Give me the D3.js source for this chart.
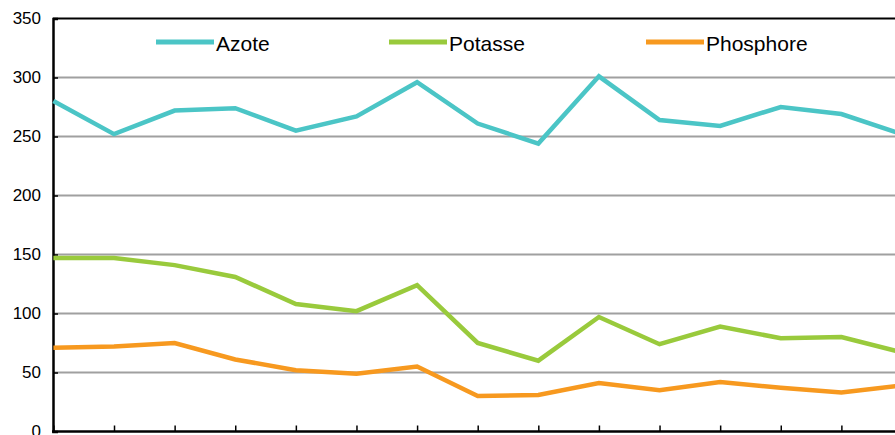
<!DOCTYPE html>
<html><head><meta charset="utf-8">
<script src="https://cdn.jsdelivr.net/npm/d3@7"></script>
<style>html,body{margin:0;padding:0;background:#fff;overflow:hidden}</style>
</head><body><svg id="c" width="895" height="435"></svg>
<script>
const categories = d3.range(1, 16).map(String);
const azote     = [280, 252, 272, 274, 255, 267, 296, 261, 244, 301, 264, 259, 275, 269, 252];
const potasse   = [147, 147, 141, 131, 108, 102, 124, 75, 60, 97, 74, 89, 79, 80, 67];
const phosphore = [71, 72, 75, 61, 52, 49, 55, 30, 31, 41, 35, 42, 37, 33, 39];
const seriesNames = ["Azote", "Potasse", "Phosphore"];
const colors = ["#4BC5C6", "#99CA3C", "#F7991F"];
const yTicks = [0, 50, 100, 150, 200, 250, 300, 350];

const svg = d3.select("#c");
const x = d3.scalePoint().domain(categories).range([53.4, 902]);
const y = d3.scaleLinear().domain([0, 350]).range([431.5, 18.5]);

// gridlines
svg.append("g").selectAll("line").data(yTicks.filter(t => t > 0 && t < 350)).join("line")
  .attr("x1", 53).attr("x2", 895).attr("y1", d => y(d)).attr("y2", d => y(d))
  .attr("stroke", "#A0A0A0").attr("stroke-width", 2);

// top frame
svg.append("line").attr("x1", 53).attr("x2", 895).attr("y1", y(350)).attr("y2", y(350))
  .attr("stroke", "#000").attr("stroke-width", 2);

// y axis
const yAxis = d3.axisRight(y).tickValues(yTicks).tickSize(5).tickFormat(d3.format("d"));
const gy = svg.append("g").attr("transform", "translate(53,0)").call(yAxis);
gy.select(".domain").attr("stroke-width", 2.5);
gy.selectAll(".tick line").attr("stroke-width", 1.5);
gy.selectAll(".tick text").attr("x", -12).attr("text-anchor", "end")
  .style("font-family", "Arial, 'Liberation Sans', sans-serif").style("font-size", "17px").attr("fill", "#000");

// x axis
const xAxis = d3.axisTop(x).tickSize(6).tickFormat("");
const gx = svg.append("g").attr("transform", `translate(0,${y(0)})`).call(xAxis);
gx.select(".domain").attr("d", `M52,0H895`).attr("stroke-width", 2.5);
gx.selectAll(".tick line").attr("stroke-width", 1.5);

// lines
const data = [azote, potasse, phosphore];
const line = d3.line().x((d, i) => x(categories[i])).y(d => y(d));
svg.append("g").selectAll("path").data(data).join("path")
  .attr("d", line).attr("fill", "none")
  .attr("stroke", (d, i) => colors[i]).attr("stroke-width", 4.5)
  .attr("stroke-linejoin", "miter");

// legend
const legX = [156, 389, 646];
const lg = svg.append("g").selectAll("g").data(seriesNames).join("g")
  .attr("transform", (d, i) => `translate(${legX[i]},42)`);
lg.append("line").attr("x1", 0).attr("x2", 58).attr("y1", 0).attr("y2", 0)
  .attr("stroke", (d, i) => colors[i]).attr("stroke-width", 5);
lg.append("text").attr("x", 60).attr("y", 9).text(d => d)
  .style("font-family", "Arial, 'Liberation Sans', sans-serif").style("font-size", "21px").attr("fill", "#000");
</script></body></html>
